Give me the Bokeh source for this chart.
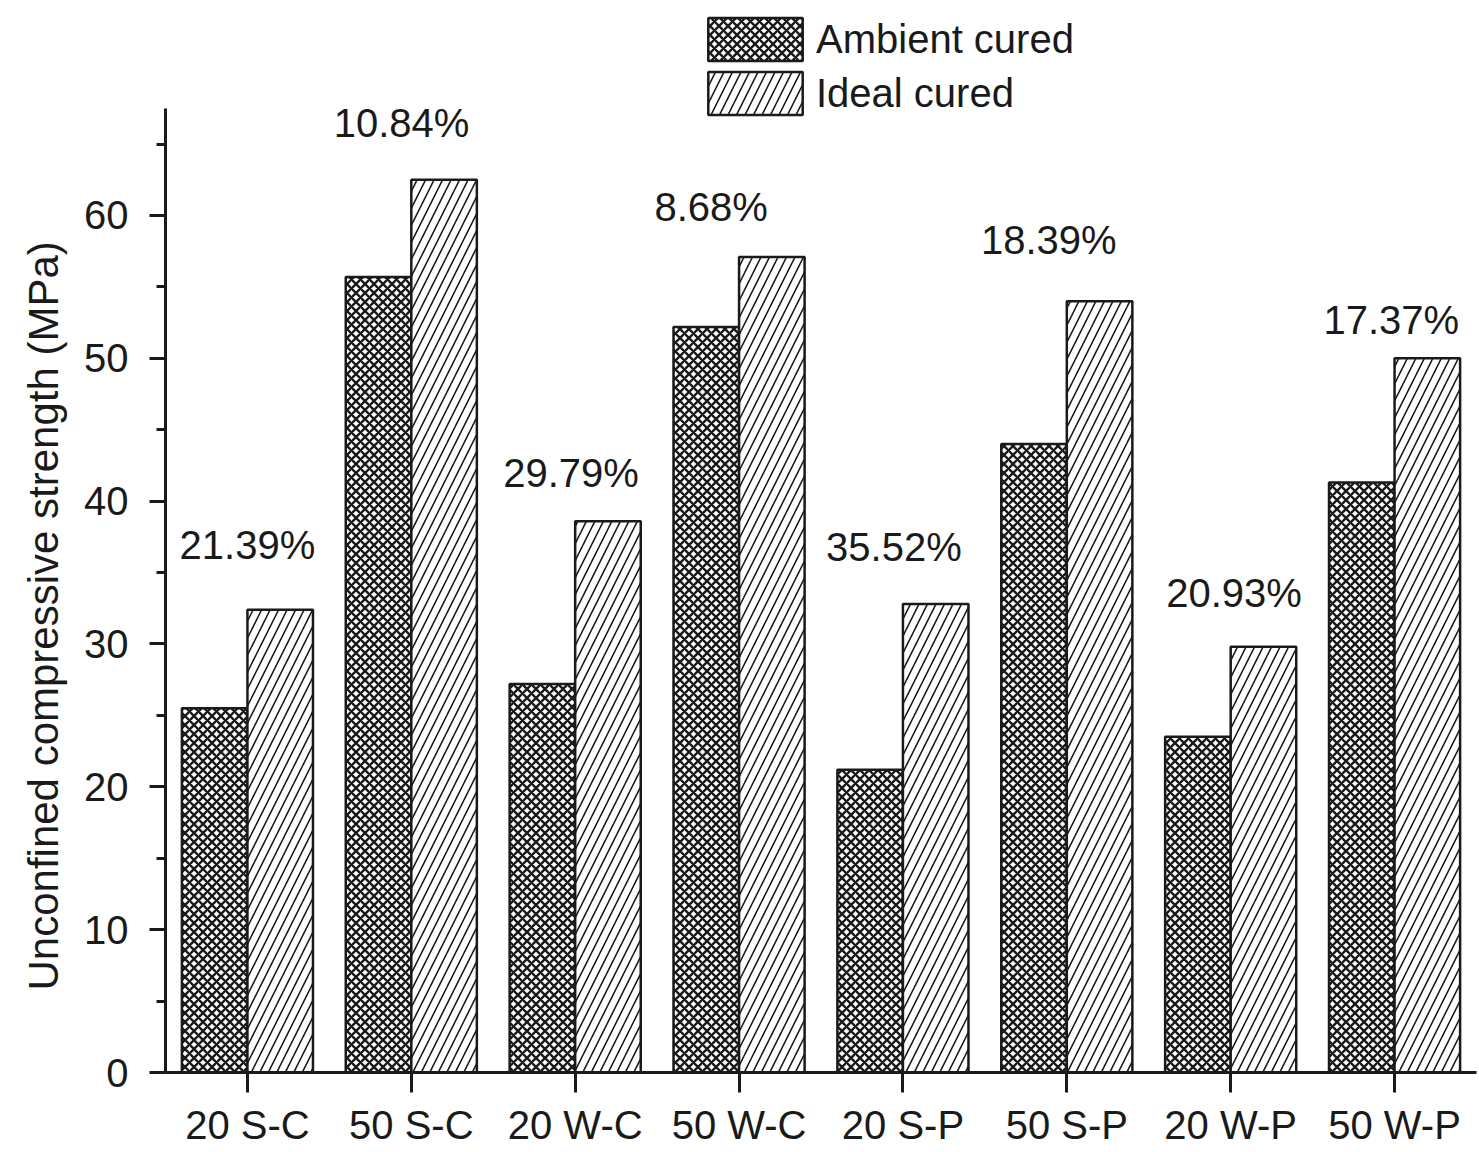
from bokeh.plotting import figure
from bokeh.models import (ColumnDataSource, Range1d, FixedTicker, SingleIntervalTicker,
                          Legend, LegendItem, Title)
from bokeh.core.properties import value
from bokeh.embed import file_html
from bokeh.resources import INLINE

# Mix designs and their unconfined compressive strengths (MPa)
categories = ["20 S-C", "50 S-C", "20 W-C", "50 W-C", "20 S-P", "50 S-P", "20 W-P", "50 W-P"]
ambient_cured = [25.5, 55.7, 27.2, 52.2, 21.2, 44.0, 23.5, 41.3]
ideal_cured = [32.4, 62.5, 38.6, 57.1, 32.8, 54.0, 29.8, 50.0]

# Strength reduction of ambient vs ideal curing, with the height each note sits at
reduction_text = ["21.39%", "10.84%", "29.79%", "8.68%", "35.52%", "18.39%", "20.93%", "17.37%"]
reduction_y = [36.9, 66.5, 42.0, 60.6, 36.8, 58.3, 33.6, 52.7]
reduction_dx = [0.0, -0.06, -0.025, -0.17, -0.055, -0.11, 0.02, -0.02]

FONT = "Liberation Sans"
INK = "#1a1a1a"
BAR_W = 0.4

idx = list(range(len(categories)))
src = ColumnDataSource(dict(
    xa=[i - BAR_W / 2 for i in idx],
    xi=[i + BAR_W / 2 for i in idx],
    ambient=ambient_cured,
    ideal=ideal_cured,
))
notes = ColumnDataSource(dict(
    x=[i + d for i, d in zip(idx, reduction_dx)],
    y=reduction_y,
    t=reduction_text,
))

p = figure(width=1479, height=1152, output_backend="svg", toolbar_location=None,
           x_range=Range1d(-0.5, len(categories) - 0.5), y_range=Range1d(0, 75.05),
           min_border_left=165, min_border_right=3, min_border_top=0, min_border_bottom=80)
p.background_fill_color = "white"
p.border_fill_color = "white"
p.outline_line_color = None
p.grid.visible = False

amb = p.vbar(x="xa", top="ambient", width=BAR_W, source=src,
             fill_color="white", line_color=INK, line_width=2.5,
             hatch_pattern="diagonal_cross", hatch_color=INK, hatch_scale=9,
             hatch_weight=2.4)
ide = p.vbar(x="xi", top="ideal", width=BAR_W, source=src,
             fill_color="white", line_color=INK, line_width=2.5,
             hatch_pattern="right_diagonal_line", hatch_color=INK, hatch_scale=17,
             hatch_weight=1.6)

p.text(x="x", y="y", text="t", source=notes, text_font=value(FONT),
       text_font_size="40px", text_color=INK, text_align="center",
       text_baseline="middle")

# Axes
xa = p.xaxis[0]
xa.ticker = FixedTicker(ticks=idx)
xa.major_label_overrides = {i: c for i, c in zip(idx, categories)}
xa.minor_tick_line_color = None
xa.major_tick_out = 20
xa.major_tick_in = 0
xa.major_label_standoff = 10

ya = p.yaxis[0]
ya.ticker = SingleIntervalTicker(interval=10, num_minor_ticks=2)
ya.bounds = (0, 67.5)
ya.major_tick_out = 16
ya.major_tick_in = 0
ya.minor_tick_out = 9
ya.minor_tick_in = 0
ya.major_label_standoff = 21

for ax in (xa, ya):
    ax.axis_line_width = 3
    ax.axis_line_color = INK
    ax.major_tick_line_width = 3
    ax.major_tick_line_color = INK
    ax.minor_tick_line_width = 3
    ax.minor_tick_line_color = INK
    ax.major_label_text_font = FONT
    ax.major_label_text_font_size = "40px"
    ax.major_label_text_color = INK

# Y title in its own side panel, started a fixed distance above the frame bottom
ytitle = Title(text="Unconfined compressive strength (MPa)", align="left", offset=82,
               vertical_align="bottom", standoff=30,
               text_font=FONT, text_font_size="42px", text_font_style="normal",
               text_color=INK)
p.add_layout(ytitle, "left")

# Legend swatches are drawn at 80% of the glyph box, so the box is sized up to suit
legend = Legend(items=[LegendItem(label="Ambient cured", renderers=[amb]),
                       LegendItem(label="Ideal cured", renderers=[ide])],
                location=(531, 952), orientation="vertical")
legend.glyph_width = 118
legend.glyph_height = 54
legend.label_height = 46
legend.spacing = 0
legend.padding = 0
legend.margin = 0
legend.label_standoff = 2
legend.label_text_font = FONT
legend.label_text_font_size = "40px"
legend.label_text_color = INK
legend.border_line_color = None
legend.background_fill_alpha = 0
p.add_layout(legend, "center")

open("out.html", "w").write(file_html(p, INLINE))
